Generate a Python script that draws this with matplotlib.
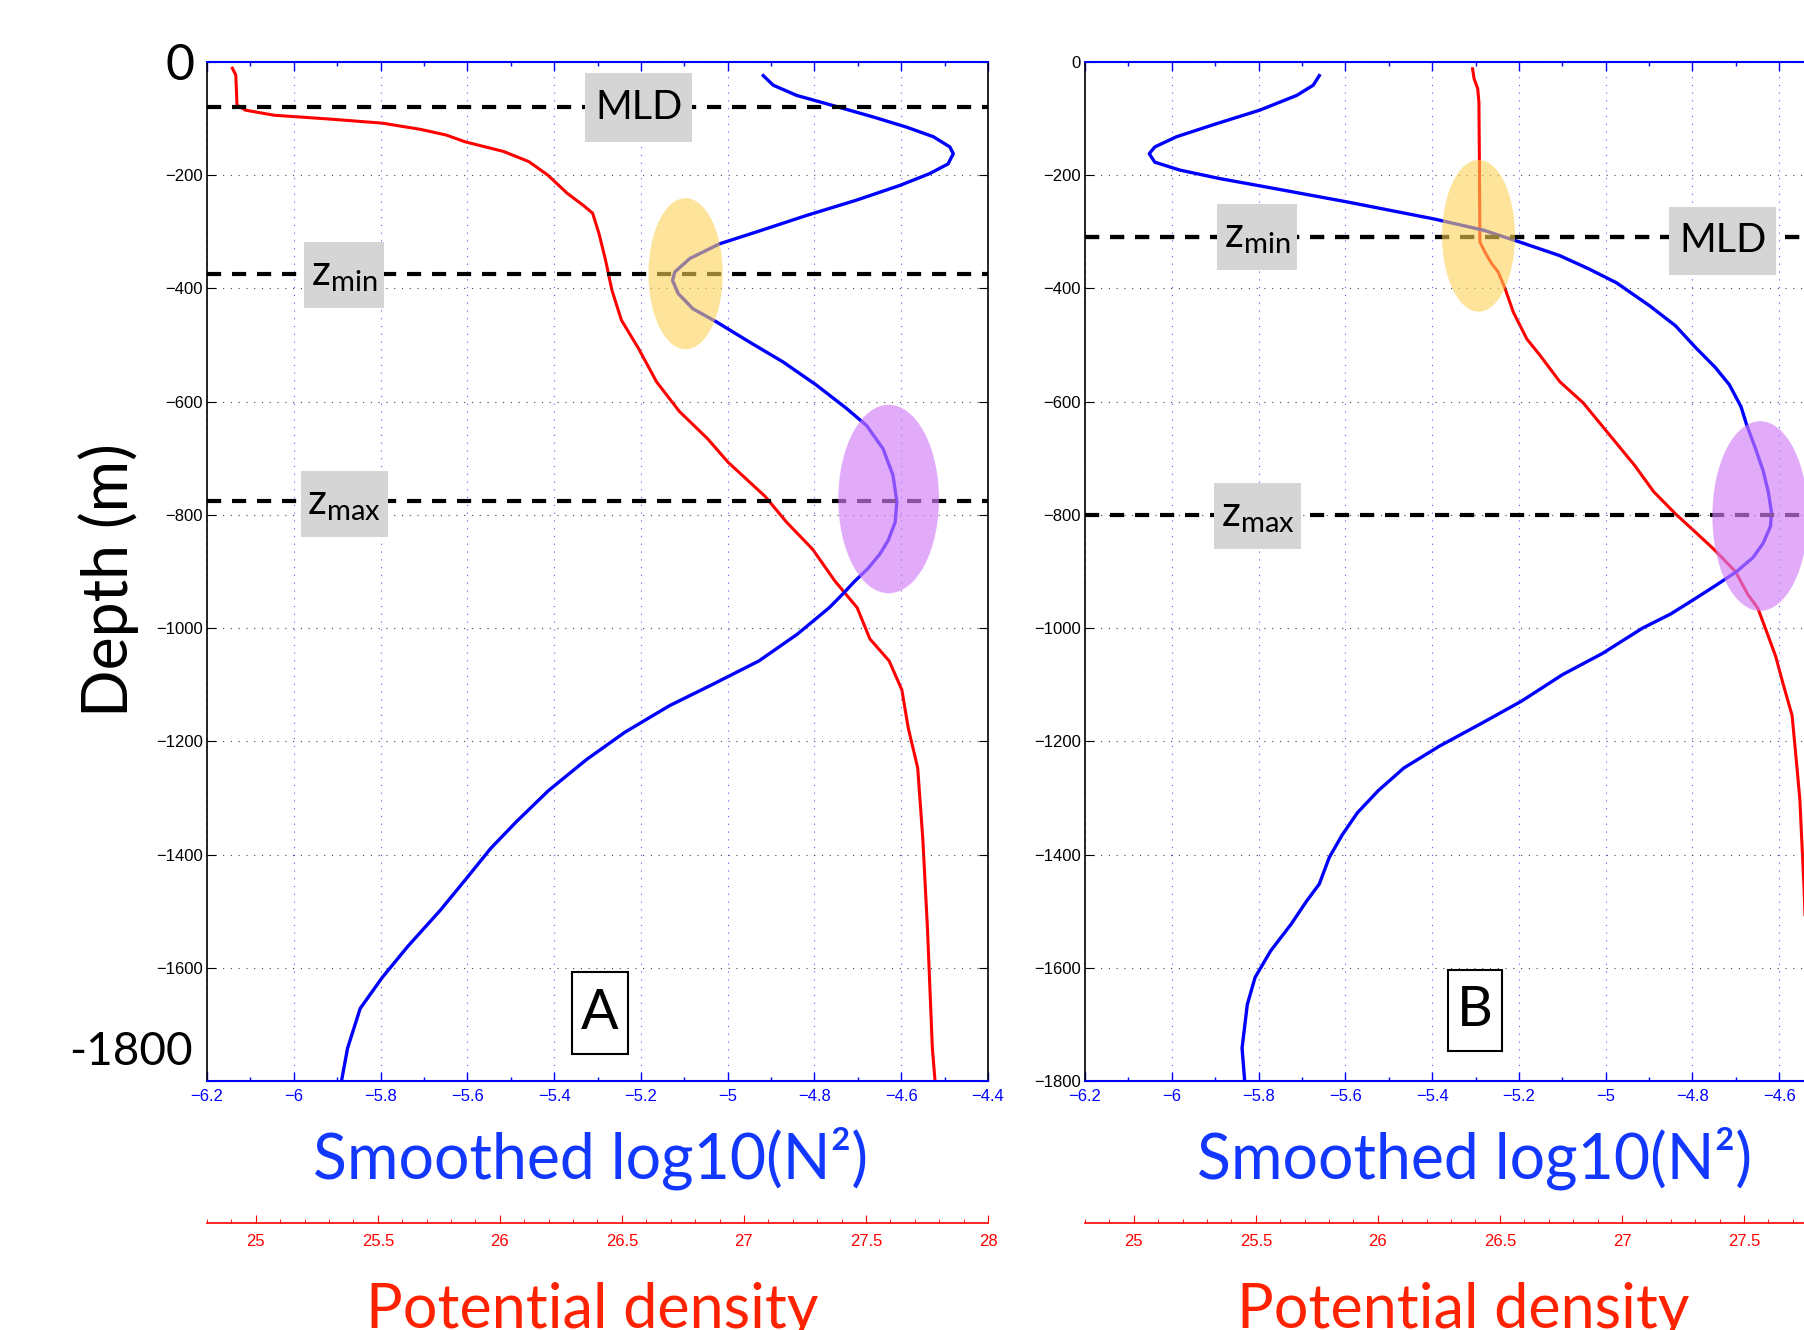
import numpy as np
import matplotlib
matplotlib.use('Agg')
import matplotlib.pyplot as plt
from matplotlib.patches import Ellipse
from matplotlib.ticker import MultipleLocator, FuncFormatter

plt.rcParams['font.family'] = ['Liberation Sans', 'DejaVu Sans']
plt.rcParams['mathtext.fontset'] = 'custom'
plt.rcParams['mathtext.rm'] = 'Lato'

BIG = ['Lato', 'DejaVu Sans']

# ---- panel A: smoothed log10(N^2) profile ----
depth_a_n2 = [-24, -41, -59, -77, -97, -115, -132, -150, -162, -180, -197, -218, -244,
              -271, -300, -321, -347, -371, -386, -409, -436, -459, -495, -530, -571, -612,
              -642, -683, -730, -777, -813, -845, -869, -895, -917, -940, -964, -1011,
              -1058, -1098, -1137, -1184, -1232, -1287, -1342, -1389, -1444, -1499, -1562,
              -1617, -1672, -1742, -1800]
n2_a = [-4.918, -4.895, -4.841, -4.757, -4.665, -4.588, -4.526, -4.488, -4.480, -4.492,
        -4.534, -4.603, -4.703, -4.818, -4.933, -5.018, -5.087, -5.122, -5.127, -5.114,
        -5.080, -5.026, -4.949, -4.872, -4.795, -4.726, -4.680, -4.642, -4.619, -4.610,
        -4.614, -4.630, -4.649, -4.677, -4.707, -4.735, -4.766, -4.840, -4.928, -5.031,
        -5.134, -5.237, -5.325, -5.413, -5.487, -5.546, -5.604, -5.663, -5.737, -5.796,
        -5.847, -5.876, -5.890]

# ---- panel A: potential density profile ----
depth_a_rho = [-11, -23, -76, -85, -94, -101, -108, -119, -129, -141, -158, -176, -200,
               -232, -253, -267, -303, -350, -403, -456, -506, -565, -617, -665, -707, -767,
               -813, -861, -917, -964, -1019, -1058, -1109, -1176, -1247, -1373, -1531,
               -1742, -1800]
rho_a = [24.904, 24.918, 24.923, 24.957, 25.074, 25.309, 25.518, 25.675, 25.780, 25.858,
         26.015, 26.119, 26.197, 26.276, 26.341, 26.380, 26.406, 26.433, 26.459, 26.498,
         26.568, 26.642, 26.735, 26.850, 26.935, 27.086, 27.175, 27.282, 27.373, 27.464,
         27.516, 27.595, 27.647, 27.673, 27.712, 27.733, 27.752, 27.772, 27.783]

# ---- panel B: smoothed log10(N^2) profile ----
depth_b_n2 = [-24, -41, -59, -85, -109, -132, -150, -162, -177, -191, -206, -221, -247,
              -277, -297, -318, -342, -365, -390, -431, -466, -505, -539, -570, -609, -641,
              -680, -722, -760, -795, -820, -850, -875, -900, -924, -950, -975, -1000,
              -1045, -1082, -1129, -1169, -1208, -1247, -1287, -1326, -1365, -1405, -1452,
              -1483, -1523, -1570, -1617, -1665, -1742, -1800]
n2_b = [-5.660, -5.674, -5.712, -5.797, -5.897, -5.989, -6.039, -6.052, -6.039, -5.981,
        -5.889, -5.781, -5.597, -5.397, -5.282, -5.198, -5.106, -5.040, -4.975, -4.898,
        -4.839, -4.792, -4.748, -4.715, -4.688, -4.675, -4.656, -4.637, -4.625, -4.618,
        -4.620, -4.637, -4.660, -4.698, -4.745, -4.798, -4.850, -4.915, -5.008, -5.099,
        -5.194, -5.288, -5.382, -5.465, -5.524, -5.572, -5.607, -5.637, -5.660, -5.690,
        -5.725, -5.772, -5.808, -5.826, -5.838, -5.832]

# ---- panel B: potential density profile ----
depth_b_rho = [-12, -29, -47, -71, -177, -318, -336, -356, -371, -400, -442, -489, -518,
               -565, -602, -657, -712, -759, -798, -830, -860, -900, -940, -965, -1003,
               -1050, -1098, -1154, -1250, -1303, -1458, -1600, -1800]
rho_b = [26.388, 26.394, 26.409, 26.414, 26.416, 26.418, 26.439, 26.466, 26.493, 26.521,
         26.555, 26.610, 26.664, 26.746, 26.841, 26.946, 27.051, 27.130, 27.219, 27.300,
         27.375, 27.465, 27.515, 27.557, 27.590, 27.630, 27.660, 27.697, 27.718, 27.729,
         27.746, 27.758, 27.770]

# depth levels (m) of the marked lines
levels_a = {'MLD': -80, 'zmin': -375, 'zmax': -775}
levels_b = {'MLD': -310, 'zmin': -310, 'zmax': -800}

n2_ticks = [-6.2, -6.0, -5.8, -5.6, -5.4, -5.2, -5.0, -4.8, -4.6, -4.4]
depth_ticks = [0, -200, -400, -600, -800, -1000, -1200, -1400, -1600, -1800]
rho_ticks = [25, 25.5, 26, 26.5, 27, 27.5, 28]

W, H = 1804, 1330
fig = plt.figure(figsize=(W / 100, H / 100), dpi=100)

AX_B, AX_H, AX_W = 1 - 1081 / H, 1019 / H, 781 / W
RED_Y = 1 - 1223 / H

LABELS = {'MLD': ('MLD', 28.5, 0.25, 1.6),
          'zmin': (r'$\mathrm{z_{min}}$', 30, 0.16, 2.1),
          'zmax': (r'$\mathrm{z_{max}}$', 30, 0.16, 2.1)}


def fmt(v, _):
    return ('%g' % v).replace('-', '\u2212')


def panel(left_px, n2, dn2, rho, drho, levels, label_pos, ellipses, letter, letter_pos,
          big_ends):
    ax = fig.add_axes([left_px / W, AX_B, AX_W, AX_H])
    tw = ax.twiny()
    tw.set_xlim(24.8, 28)
    tw.axis('off')
    ax.set_zorder(tw.get_zorder() + 1)
    ax.patch.set_visible(False)

    tw.plot(rho, drho, color='#ff0000', lw=2.2, solid_joinstyle='round')
    ax.plot(n2, dn2, color='#0000ff', lw=2.4, solid_joinstyle='round', zorder=2)

    for name, lev in levels.items():
        ax.axhline(lev, color='k', lw=3, dashes=(3.4, 2.6), zorder=2.5)

    for (cx, cy, w, h, c, a) in ellipses:
        ax.add_patch(Ellipse((cx, cy), w, h, facecolor=c, edgecolor='none', alpha=a,
                             zorder=3))

    for name, (x, y) in label_pos.items():
        txt, size, pad, asp = LABELS[name]
        ax.text(x, y, txt, fontsize=size, family=BIG, ha='center', va='center', zorder=5,
                bbox=dict(boxstyle='square,pad=%g' % pad, mutation_aspect=asp,
                          facecolor='#d5d5d5', edgecolor='none'))

    ax.text(letter_pos[0], letter_pos[1], letter, fontsize=40, family=BIG, ha='center',
            va='center', zorder=5,
            bbox=dict(boxstyle='square,pad=0.17', mutation_aspect=1.6,
                      facecolor='white', edgecolor='black', lw=1.5))

    ax.set_xlim(-6.2, -4.4)
    ax.set_ylim(-1800, 0)
    ax.xaxis.set_major_locator(MultipleLocator(0.2))
    ax.xaxis.set_minor_locator(MultipleLocator(0.1))
    ax.xaxis.set_major_formatter(FuncFormatter(fmt))
    ax.set_yticks(depth_ticks)
    ylabels = [fmt(v, None) for v in depth_ticks]
    if big_ends:
        ylabels[0] = ''
        ylabels[-1] = ''
    ax.set_yticklabels(ylabels)

    ax.tick_params(axis='x', which='both', direction='in', top=True, bottom=True,
                   colors='#0000ff', labelsize=12, pad=6)
    ax.tick_params(axis='x', which='major', length=6.5, width=1)
    ax.tick_params(axis='x', which='minor', length=3.2, width=1)
    ax.tick_params(axis='y', direction='in', left=True, right=True, length=6.5,
                   colors='black', labelsize=12, pad=3)

    ax.grid(True, axis='x', color='#5a5aff', lw=0.8, linestyle=(0, (1, 6)))
    ax.grid(True, axis='y', color='#444444', lw=0.8, linestyle=(0, (1, 6)))
    for s in ('top', 'bottom'):
        ax.spines[s].set_color('#0000ff')
        ax.spines[s].set_linewidth(1.5)
    for s in ('left', 'right'):
        ax.spines[s].set_color('black')
        ax.spines[s].set_linewidth(1.2)

    # density scale underneath
    rax = fig.add_axes([left_px / W, RED_Y, AX_W, 0.0001])
    rax.set_xlim(24.8, 28)
    rax.set_yticks([])
    rax.patch.set_visible(False)
    for s in ('top', 'left', 'right'):
        rax.spines[s].set_visible(False)
    rax.spines['bottom'].set_color('#ff0000')
    rax.spines['bottom'].set_linewidth(1.2)
    rax.set_xticks(rho_ticks)
    rax.set_xticklabels(['%g' % v for v in rho_ticks])
    rax.xaxis.set_minor_locator(MultipleLocator(0.1))
    rax.tick_params(axis='x', which='both', direction='in', colors='#ff0000',
                    labelsize=12, pad=8)
    rax.tick_params(axis='x', which='major', length=5.8)
    rax.tick_params(axis='x', which='minor', length=3)
    return ax


panel(207, n2_a, depth_a_n2, rho_a, depth_a_rho, levels_a,
      {'MLD': (-5.205, -80), 'zmin': (-5.884, -376), 'zmax': (-5.884, -781)},
      [(-5.097, -374, 0.171, 267, '#fcd257', 0.6),
       (-4.629, -772, 0.232, 333, '#d27ef8', 0.65)],
      'A', (-5.294, -1680), True)

panel(1085, n2_b, depth_b_n2, rho_b, depth_b_rho, levels_b,
      {'zmin': (-5.804, -309), 'MLD': (-4.730, -316), 'zmax': (-5.802, -802)},
      [(-5.293, -307, 0.168, 268, '#fcd257', 0.6),
       (-4.644, -802, 0.22, 335, '#d27ef8', 0.65)],
      'B', (-5.301, -1676), False)

# big end labels of the depth axis in panel A
fig.text(180 / W, 1 - 66 / H, '0', fontsize=36, family=BIG, ha='center', va='center')
fig.text(193 / W, 1 - 1052 / H, '-1800', fontsize=33, family=BIG, ha='right',
         va='center')
fig.text(109 / W, 1 - 580 / H, 'Depth (m)', fontsize=45, family=BIG, rotation=90,
         ha='center', va='center')

for cx_n2, cx_rho in ((591, 592), (1475, 1463)):
    fig.text(cx_n2 / W, 1 - 1179 / H, 'Smoothed log10(N\u00b2)', fontsize=45, family=BIG,
             color='#1238ff', ha='center', va='baseline')
    fig.text(cx_rho / W, 1 - 1328 / H, 'Potential density', fontsize=44, family=BIG,
             color='#ff2200', ha='center', va='baseline')

fig.savefig('out.png', dpi=100)
